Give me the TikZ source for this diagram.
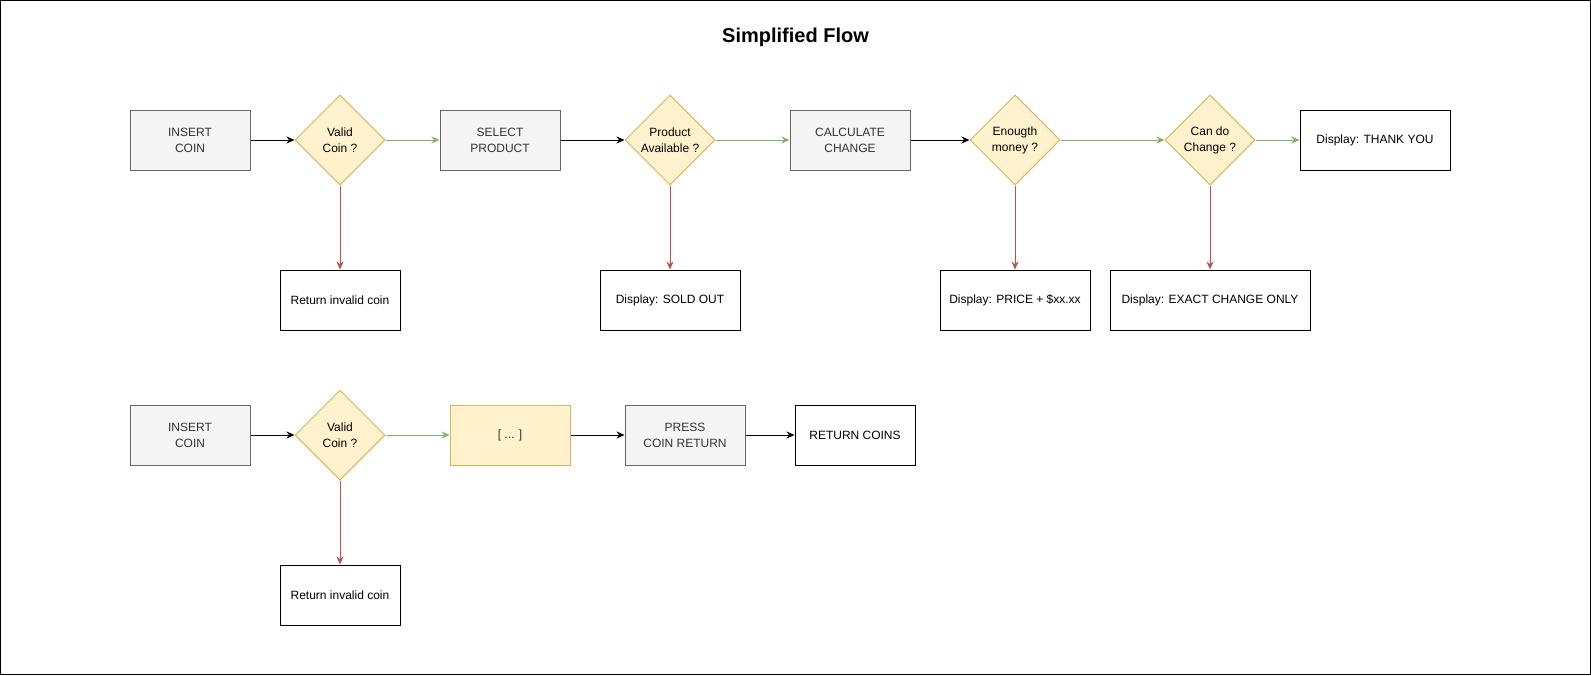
\documentclass[tikz,border=0pt]{standalone}
\usepackage{fontspec}
\setmainfont{Liberation Sans}
\usetikzlibrary{shapes.geometric,arrows.meta}
\definecolor{actfill}{HTML}{F5F5F5}
\definecolor{actline}{HTML}{666666}
\definecolor{acttext}{HTML}{333333}
\definecolor{decfill}{HTML}{FFF2CC}
\definecolor{decline}{HTML}{D6B656}
\definecolor{yesline}{HTML}{82B366}
\definecolor{noline}{HTML}{B85450}
\begin{document}
\begin{tikzpicture}[x=1pt,y=-1pt,line width=1pt,
  every node/.style={font=\fontsize{12}{16}\selectfont,align=center,inner sep=0pt},
  action/.style={draw=actline,fill=actfill,text=acttext,minimum width=120pt,minimum height=60pt},
  decision/.style={diamond,aspect=1,draw=decline,fill=decfill,minimum width=90pt,minimum height=90pt},
  message/.style={draw=black,fill=white,minimum width=120pt,minimum height=60pt},
  flow/.style={->,>={Stealth[length=8pt,width=7pt]}},
  yes/.style={flow,draw=yesline},
  no/.style={flow,draw=noline}]
\useasboundingbox (0,0) rectangle (1591,675);
\draw (0.5,0.5) rectangle (1590.5,674.5);
\node[font=\bfseries\fontsize{20}{24}\selectfont] (title) at (795.5,37) {Simplified Flow};
\node[action] (ins1) at (190,140) {INSERT\\COIN};
\node[decision] (val1) at (340,140) {Valid\\Coin ?};
\node[action] (sel) at (500,140) {SELECT\\PRODUCT};
\node[decision] (avail) at (670,140) {Product\\Available ?};
\node[action] (calc) at (850,140) {CALCULATE\\CHANGE};
\node[decision] (money) at (1015,140) {Enougth\\money ?};
\node[decision] (chg) at (1210,140) {Can do\\Change ?};
\node[message,minimum width=150pt] (thanks) at (1375,140) {Display: THANK YOU};
\node[message] (inv1) at (340,300) {Return invalid coin};
\node[message,minimum width=140pt] (sold) at (670,300) {Display: SOLD OUT};
\node[message,minimum width=150pt] (price) at (1015,300) {Display: PRICE + \$xx.xx};
\node[message,minimum width=200pt] (exact) at (1210,300) {Display: EXACT CHANGE ONLY};
\node[action] (ins2) at (190,435) {INSERT\\COIN};
\node[decision] (val2) at (340,435) {Valid\\Coin ?};
\node[action,draw=decline,fill=decfill] (more) at (510,435) {[ ... ]};
\node[action] (press) at (685,435) {PRESS\\COIN RETURN};
\node[message] (ret) at (855,435) {RETURN COINS};
\node[message] (inv2) at (340,595) {Return invalid coin};
\draw[flow] (ins1) -- (val1);
\draw[yes] (val1) -- (sel);
\draw[flow] (sel) -- (avail);
\draw[yes] (avail) -- (calc);
\draw[flow] (calc) -- (money);
\draw[yes] (money) -- (chg);
\draw[yes] (chg) -- (thanks);
\draw[no] (val1) -- (inv1);
\draw[no] (avail) -- (sold);
\draw[no] (money) -- (price);
\draw[no] (chg) -- (exact);
\draw[flow] (ins2) -- (val2);
\draw[yes] (val2) -- (more);
\draw[flow] (more) -- (press);
\draw[flow] (press) -- (ret);
\draw[no] (val2) -- (inv2);
\end{tikzpicture}
\end{document}
